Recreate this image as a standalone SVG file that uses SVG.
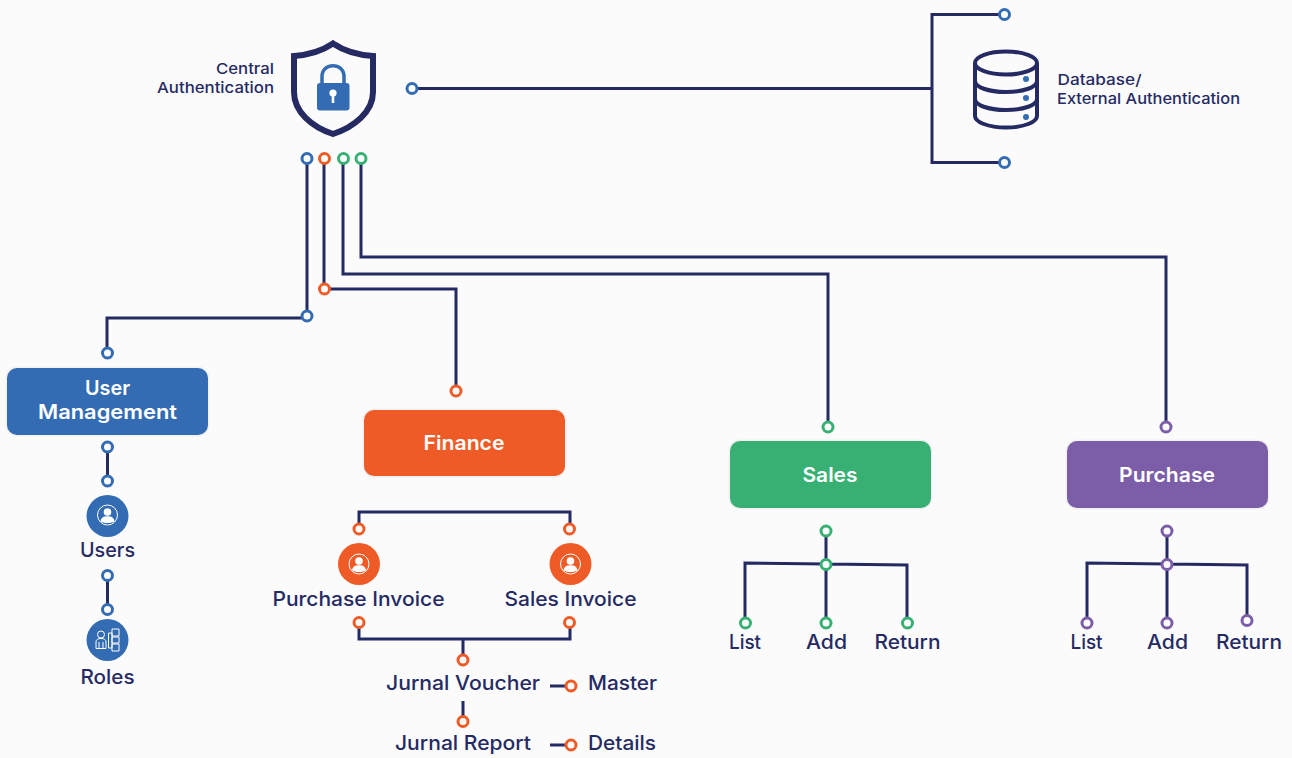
<svg xmlns="http://www.w3.org/2000/svg" width="1292" height="758" viewBox="0 0 1292 758">
<style>
text{font-family:"Inter","Open Sans","Liberation Sans",sans-serif;font-weight:500;fill:#252a63;text-anchor:middle}
.w{fill:#fff;font-weight:600;font-size:20px}
.l{font-size:20px}
.s{font-size:15px}
.c{fill:none;stroke:#252a63;stroke-width:3;stroke-linejoin:miter}
.r{fill:#fbfbfc;stroke-width:3}
.b{stroke:#336cb3}.o{stroke:#ee5b26}.g{stroke:#38b073}.p{stroke:#7b5ea7}
.box{stroke:#f1f1f4;stroke-width:3;paint-order:stroke}
.ic{fill:none;stroke:#fff;stroke-width:1}
</style>
<defs>
<g id="person">
<circle class="ic" r="10"/>
<circle r="3.800" cy="-3" fill="#fff"/>
<path d="M-7 6.200C-6 1.600-3 1.200 0 1.200S6 1.600 7 6.200C4.500 8.600-4.500 8.600-7 6.200Z" fill="#fff"/>
</g>
</defs>
<rect width="1292" height="758" fill="#fbfbfc"/>
<g id="connectors">
<path class="c" d="M412 88.500H932M1004 14.500H932V162.500H1004"/>
<path class="c" d="M307 158V316M307 318H107V352"/>
<path class="c" d="M324 158V289M324 289H456V390"/>
<path class="c" d="M343 158V274H828V426"/>
<path class="c" d="M361 158V257H1166V426"/>
<path class="c" d="M107.500 447V481M107.500 575V609"/>
<path class="c" d="M359 528V512H570V528M359 622V639H570V622M463 639V660M463 701V721M550 686H571M550 745H571"/>
<path class="c" d="M826 531V623M745 623V563L826 564L907 565V623"/>
<path class="c" d="M1167 531V623M1087 623V563L1167 564L1247 565V620"/>
</g>
<g id="central-authentication">
<path d="M333 43.500C322 51 307 55 294 56V92C294 112 312 127 333 134C354 127 373 112 373 92V56C359 55 344 51 333 43.500Z" fill="none" stroke="#252a63" stroke-width="6"/>
<path d="M322 84V76.500C322 62 344 62 344 76.500V84" fill="none" stroke="#336cb3" stroke-width="3.500"/>
<rect x="317" y="83" width="32.500" height="27.500" rx="3" fill="#336cb3"/>
<circle cx="333" cy="93" r="3.600" fill="#fff"/>
<path d="M331.700 94H334.300V103H331.700Z" fill="#fff"/>
<text class="s" x="245" y="74" textLength="58" lengthAdjust="spacingAndGlyphs">Central</text>
<text class="s" x="215.500" y="93" textLength="117" lengthAdjust="spacingAndGlyphs">Authentication</text>
<circle class="r b" cx="412" cy="88.500" r="5"/>
<circle class="r b" cx="307" cy="158.500" r="5"/>
<circle class="r o" cx="324.500" cy="158.500" r="5"/>
<circle class="r g" cx="343.500" cy="158.500" r="5"/>
<circle class="r g" cx="361" cy="158.500" r="5"/>
<circle class="r b" cx="307" cy="316" r="5"/>
<circle class="r o" cx="324.500" cy="289" r="5"/>
</g>
<g id="database">
<g fill="none" stroke="#252a63" stroke-width="4">
<ellipse cx="1006" cy="63" rx="31" ry="11.500"/>
<path d="M975 63V116C975 122 988 127.500 1006 127.500S1037 122 1037 116V63"/>
<path d="M975 81C975 87 988 92 1006 92S1037 87 1037 81M975 99C975 105 988 110 1006 110S1037 105 1037 99"/>
</g>
<g fill="#336cb3"><circle cx="1026" cy="79" r="3"/><circle cx="1026" cy="98" r="3"/><circle cx="1026" cy="117" r="3"/></g>
<text class="s" x="1099.500" y="85" textLength="84" lengthAdjust="spacingAndGlyphs">Database/</text>
<text class="s" x="1148.500" y="104" textLength="183" lengthAdjust="spacingAndGlyphs">External Authentication</text>
<circle class="r b" cx="1004.500" cy="14.500" r="5"/>
<circle class="r b" cx="1004.500" cy="162.500" r="5"/>
</g>
<g id="user-management">
<circle class="r b" cx="107.500" cy="353" r="5"/>
<rect class="box" x="7" y="368" width="201" height="67" rx="10" fill="#336cb3"/>
<text class="w" x="107.500" y="395" textLength="45" lengthAdjust="spacingAndGlyphs">User</text>
<text class="w" x="107.500" y="419" textLength="139" lengthAdjust="spacingAndGlyphs">Management</text>
<circle class="r b" cx="107.500" cy="447" r="5"/>
<circle class="r b" cx="107.500" cy="481" r="5"/>
</g>
<g id="users">
<circle cx="107.500" cy="516" r="21" fill="#336cb3"/>
<use href="#person" x="107.500" y="515"/>
<text class="l" x="107.500" y="557" textLength="55" lengthAdjust="spacingAndGlyphs">Users</text>
<circle class="r b" cx="107.500" cy="575.500" r="5"/>
<circle class="r b" cx="107.500" cy="609.500" r="5"/>
</g>
<g id="roles">
<circle cx="107.500" cy="640" r="21" fill="#336cb3"/>
<g class="ic">
<circle cx="101" cy="634.500" r="3.500"/>
<path d="M96 648.500V642C96 639.500 98 638.500 101 638.500S106 639.500 106 642V648.500ZM99 648.500V642M103 648.500V642"/>
<path d="M108.500 633H112V648H108.500ZM112 629H119V636H112ZM112 637H119V643H112ZM112 644H119V651H112Z"/>
</g>
<text class="l" x="107.500" y="684" textLength="54" lengthAdjust="spacingAndGlyphs">Roles</text>
</g>
<g id="finance">
<circle class="r o" cx="456" cy="391" r="5"/>
<rect class="box" x="364" y="410" width="201" height="66" rx="10" fill="#ee5b26"/>
<text class="w" x="464" y="450" textLength="81" lengthAdjust="spacingAndGlyphs">Finance</text>
</g>
<g id="purchase-invoice">
<circle class="r o" cx="359" cy="529" r="5"/>
<circle cx="359" cy="564" r="21" fill="#ee5b26"/>
<use href="#person" x="359" y="564"/>
<text class="l" x="358.500" y="606" textLength="172" lengthAdjust="spacingAndGlyphs">Purchase Invoice</text>
<circle class="r o" cx="359" cy="622.500" r="5"/>
</g>
<g id="sales-invoice">
<circle class="r o" cx="569.500" cy="529" r="5"/>
<circle cx="570.500" cy="564" r="21" fill="#ee5b26"/>
<use href="#person" x="570.500" y="564"/>
<text class="l" x="570.500" y="606" textLength="132" lengthAdjust="spacingAndGlyphs">Sales Invoice</text>
<circle class="r o" cx="569.500" cy="622.500" r="5"/>
</g>
<g id="jurnal-voucher">
<circle class="r o" cx="463" cy="660" r="5"/>
<text class="l" x="463" y="690" textLength="154" lengthAdjust="spacingAndGlyphs">Jurnal Voucher</text>
</g>
<g id="jurnal-report">
<circle class="r o" cx="463" cy="721.500" r="5"/>
<text class="l" x="463" y="750" textLength="136" lengthAdjust="spacingAndGlyphs">Jurnal Report</text>
</g>
<g id="master">
<circle class="r o" cx="571" cy="686" r="5"/>
<text class="l" x="622.500" y="690" textLength="69" lengthAdjust="spacingAndGlyphs">Master</text>
</g>
<g id="details">
<circle class="r o" cx="571" cy="745" r="5"/>
<text class="l" x="622" y="750" textLength="68" lengthAdjust="spacingAndGlyphs">Details</text>
</g>
<g id="sales">
<circle class="r g" cx="828" cy="427" r="5"/>
<rect class="box" x="730" y="441" width="201" height="67" rx="10" fill="#38b073"/>
<text class="w" x="830" y="482" textLength="55" lengthAdjust="spacingAndGlyphs">Sales</text>
<circle class="r g" cx="826" cy="531" r="5"/>
<circle class="r g" cx="826" cy="564.500" r="5"/>
<circle class="r g" cx="745.500" cy="623" r="5"/>
<circle class="r g" cx="826" cy="623" r="5"/>
<circle class="r g" cx="907.500" cy="623" r="5"/>
<text class="l" x="745" y="649" textLength="32" lengthAdjust="spacingAndGlyphs">List</text>
<text class="l" x="826.500" y="649" textLength="41" lengthAdjust="spacingAndGlyphs">Add</text>
<text class="l" x="907.500" y="649" textLength="66" lengthAdjust="spacingAndGlyphs">Return</text>
</g>
<g id="purchase">
<circle class="r p" cx="1166" cy="427" r="5"/>
<rect class="box" x="1067" y="441" width="201" height="67" rx="10" fill="#7b5ea7"/>
<text class="w" x="1167" y="482" textLength="96" lengthAdjust="spacingAndGlyphs">Purchase</text>
<circle class="r p" cx="1167" cy="531" r="5"/>
<circle class="r p" cx="1167" cy="564.500" r="5"/>
<circle class="r p" cx="1087" cy="623" r="5"/>
<circle class="r p" cx="1167" cy="623" r="5"/>
<circle class="r p" cx="1247" cy="620.500" r="5"/>
<text class="l" x="1086.500" y="649" textLength="32" lengthAdjust="spacingAndGlyphs">List</text>
<text class="l" x="1167.500" y="649" textLength="41" lengthAdjust="spacingAndGlyphs">Add</text>
<text class="l" x="1249" y="649" textLength="66" lengthAdjust="spacingAndGlyphs">Return</text>
</g>
</svg>
